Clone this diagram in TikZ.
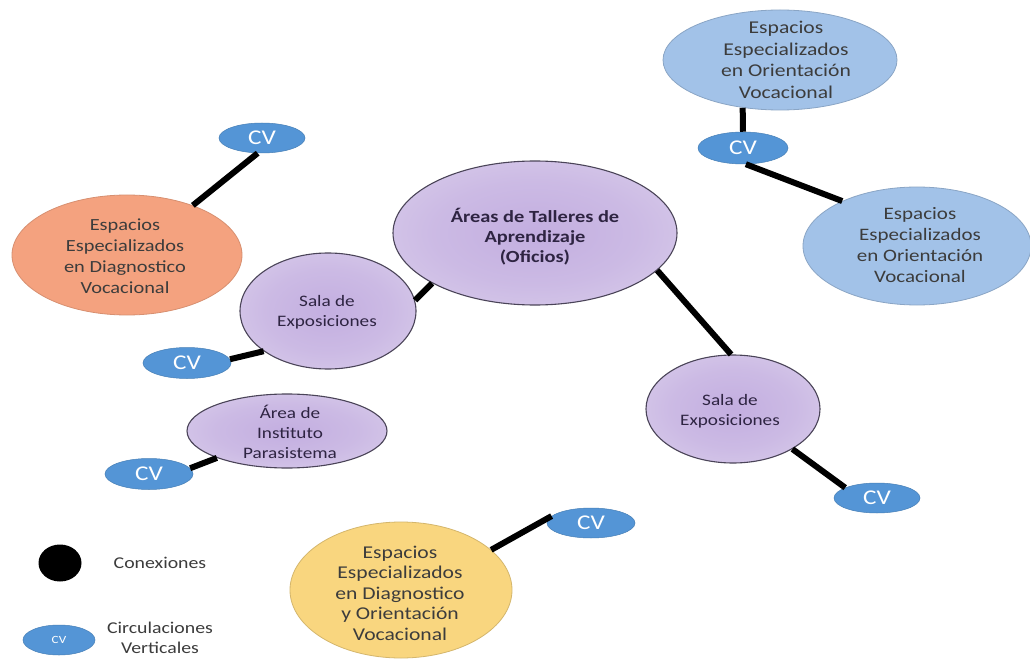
\documentclass[tikz,border=0pt]{standalone}
\usepackage{fontspec}
\setmainfont{Carlito}[FakeStretch=1.2]
\usetikzlibrary{shapes.geometric}
\definecolor{lavin}{HTML}{C3AEE0}
\definecolor{lavout}{HTML}{E6DFF1}
\definecolor{lavborder}{HTML}{4A4458}
\definecolor{cvblue}{HTML}{5495D6}
\definecolor{lightblue}{HTML}{A2C2E8}
\definecolor{salmon}{HTML}{F4A27F}
\definecolor{sunny}{HTML}{F9D67F}
\definecolor{txtgray}{HTML}{3C3C3C}
\definecolor{txtpurple}{HTML}{2E2442}
\pgfdeclareradialshading{lavshade}{\pgfpoint{0bp}{0bp}}{color(0bp)=(lavin); color(18bp)=(lavin!75!lavout); color(50bp)=(lavout)}
\tikzset{
  lav/.style={ellipse, draw=lavborder, line width=1.1pt, shade, shading=lavshade, inner sep=0pt},
  plain/.style={ellipse, inner sep=0pt, line width=0.8pt},
  cvnode/.style={ellipse, fill=cvblue, draw=cvblue!85!black, line width=0.5pt, inner sep=0pt,
    minimum width=88pt, minimum height=31pt, text=white, font={\fontsize{21}{24}\selectfont}},
  link/.style={line width=6pt, black},
  bigtxt/.style={align=center, text=txtgray, inner sep=0pt},
  lavtxt/.style={align=center, text=txtpurple, inner sep=0pt},
  legtxt/.style={align=center, text=txtgray, inner sep=0pt, font={\fontsize{16.5}{20}\selectfont}}
}
\begin{document}
\begin{tikzpicture}[x=1pt,y=-1pt]
\useasboundingbox[fill=white] (0,0) rectangle (1030,660);

% main and lavender nodes
\node[lav, minimum width=284pt, minimum height=144pt] (main) at (535,233) {};
\node[lavtxt, font={\fontsize{17}{20}\selectfont\bfseries}] (tmain) at (535,237) {Áreas de Talleres de\\Aprendizaje\\(Oficios)};

\node[lav, minimum width=176pt, minimum height=116pt] (salaL) at (328,311) {};
\node[lavtxt, font={\fontsize{16}{20}\selectfont}] (tsalaL) at (327,312) {Sala de\\Exposiciones};

\node[lav, minimum width=200pt, minimum height=74pt] (para) at (287,431) {};
\node[lavtxt, font={\fontsize{16}{20}\selectfont}] (tpara) at (290,432) {Área de\\Instituto\\Parasistema};

\node[lav, minimum width=174pt, minimum height=108pt] (salaR) at (733,409) {};
\node[lavtxt, font={\fontsize{16}{20}\selectfont}] (tsalaR) at (730,411) {Sala de\\Exposiciones};

% coloured ellipses
\node[plain, fill=salmon, draw=salmon!88!black, minimum width=230pt, minimum height=120pt] (orange) at (127,255) {};
\node[bigtxt, font={\fontsize{17}{21}\selectfont}] (torange) at (125,256) {Espacios\\Especializados\\en Diagnostico\\Vocacional};

\node[plain, fill=lightblue, draw=lightblue!85!black, minimum width=234pt, minimum height=100pt] (blueT) at (780,60) {};
\node[bigtxt, font={\fontsize{18}{21.5}\selectfont}] (tblueT) at (786,60) {Espacios\\Especializados\\en Orientación\\Vocacional};

\node[plain, fill=lightblue, draw=lightblue!85!black, minimum width=228pt, minimum height=118pt] (blueR) at (917,246) {};
\node[bigtxt, font={\fontsize{17.5}{21}\selectfont}] (tblueR) at (920,245) {Espacios\\Especializados\\en Orientación\\Vocacional};

\node[plain, fill=sunny, draw=sunny!85!black, minimum width=222pt, minimum height=136pt] (yellow) at (401,590) {};
\node[bigtxt, font={\fontsize{18}{20.5}\selectfont}] (tyellow) at (400,593) {Espacios\\Especializados\\en Diagnostico\\y Orientación\\Vocacional};

% CV nodes
\node[cvnode, minimum width=86pt, minimum height=30pt] (cvA) at (262,138) {CV};
\node[cvnode] (cvB) at (187,363) {CV};
\node[cvnode] (cvC) at (149,474) {CV};
\node[cvnode, minimum width=90pt, minimum height=32pt] (cvD) at (743,148) {CV};
\node[cvnode, minimum width=86pt, minimum height=30pt] (cvE) at (877,498) {CV};
\node[cvnode, minimum width=88pt, minimum height=30pt] (cvF) at (591,523) {CV};

% connectors
\draw[link] (cvA.-106) -- (orange.37);
\draw[link] (main.206) -- (salaL.7);
\draw[link] (cvB.5) -- (salaL.212);
\draw[link] (cvC.8) -- (para.201);
\draw[link] (blueT.232) -- (cvD.north);
\draw[link] (cvD.-80) -- (blueR.149);
\draw[link] (main.-17) -- (salaR.92);
\draw[link] (salaR.-34) -- (cvE.162);
\draw[link] (yellow.24) -- (cvF.170);

% legend
\node[ellipse, fill=black, inner sep=0pt, minimum width=43pt, minimum height=37pt] (legdot) at (60,563) {};
\node[legtxt] (legcon) at (160,563) {Conexiones};
\node[cvnode, minimum width=72pt, minimum height=30pt, font={\fontsize{11}{13}\selectfont}] (legcv) at (59,640) {CV};
\node[legtxt] (legcirc) at (160,638) {Circulaciones\\Verticales};
\end{tikzpicture}
\end{document}
